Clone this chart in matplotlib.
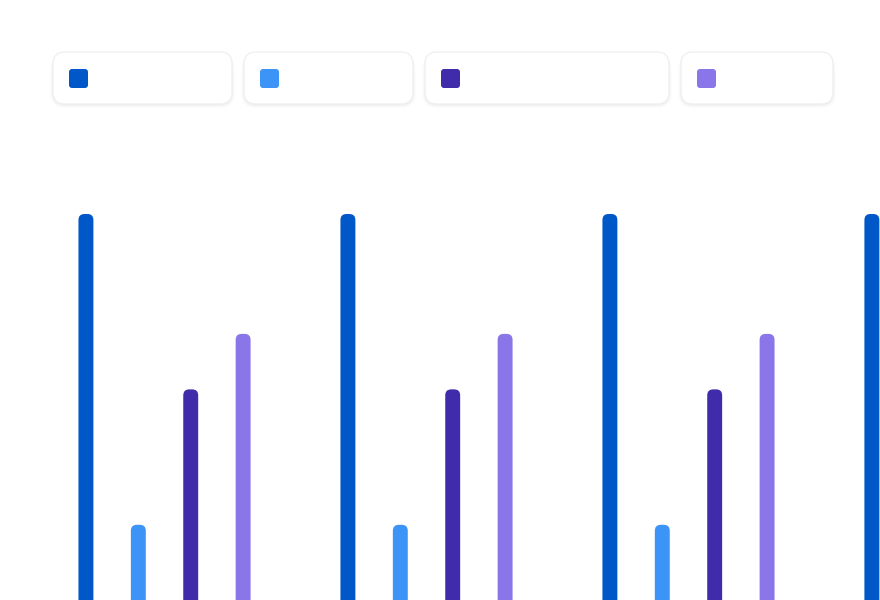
import matplotlib.pyplot as plt
from matplotlib.patches import FancyBboxPatch

# data (baseline sits below the visible area)
groups = [0, 1, 2, 3]
series_a = [100, 100, 100, 100]
series_b = [30, 30, 30, 30]
series_c = [60.5, 60.5, 60.5, 60.5]
series_d = [73, 73, 73, 73]
series_values = [series_a, series_b, series_c, series_d]
series_colors = ['#0057C8', '#3D94F7', '#402BAA', '#8A76E8']

W, H = 880, 600
fig = plt.figure(figsize=(W / 100, H / 100), dpi=100)
fig.patch.set_facecolor('white')

ax = fig.add_axes([0, 0, 1, 1])
ax.set_xlim(-0.628, 2.731)
ax.set_ylim(13.06, 148.2)
ax.axis('off')

offsets = [-0.3, -0.1, 0.1, 0.3]
bar_w = 0.057
# rounding is given in x units, mutation_aspect stretches it to y units
px_x = (2.731 + 0.628) / W
px_y = (148.2 - 13.06) / H
for vals, off, col in zip(series_values, offsets, series_colors):
    for g, v in zip(groups, vals):
        p = FancyBboxPatch((g + off - bar_w / 2, -20), bar_w, v + 20,
                           boxstyle='round,pad=0,rounding_size=%f' % (6 * px_x),
                           mutation_aspect=px_y / px_x,
                           facecolor=col, edgecolor='none')
        ax.add_patch(p)

# legend chips, drawn in pixel units and converted to figure fractions
chips = [(53, 232), (244, 413), (425, 669), (681, 833)]
top, bottom = 52, 104


def fx(x):
    return x / W


def fy(y):
    return 1 - y / H


for (x0, x1), col in zip(chips, series_colors):
    # soft shadow
    for k, a in enumerate([0.025, 0.02, 0.015, 0.01]):
        sh = FancyBboxPatch((fx(x0 - k), fy(bottom + 1 + k)), fx(x1 - x0 + 2 * k), (bottom - top) / H,
                            boxstyle='round,pad=0,rounding_size=%f' % fx(12 + k),
                            mutation_aspect=W / H,
                            transform=fig.transFigure, facecolor='black', alpha=a,
                            edgecolor='none')
        fig.add_artist(sh)
    box = FancyBboxPatch((fx(x0), fy(bottom)), fx(x1 - x0), (bottom - top) / H,
                         boxstyle='round,pad=0,rounding_size=%f' % fx(12),
                         mutation_aspect=W / H,
                         transform=fig.transFigure, facecolor='white',
                         edgecolor='#F0F0F0', linewidth=1)
    fig.add_artist(box)
    sw = FancyBboxPatch((fx(x0 + 16), fy(88)), fx(19), 19 / H,
                        boxstyle='round,pad=0,rounding_size=%f' % fx(3),
                        mutation_aspect=W / H,
                        transform=fig.transFigure, facecolor=col, edgecolor='none')
    fig.add_artist(sw)

fig.savefig('out.png', dpi=100)
